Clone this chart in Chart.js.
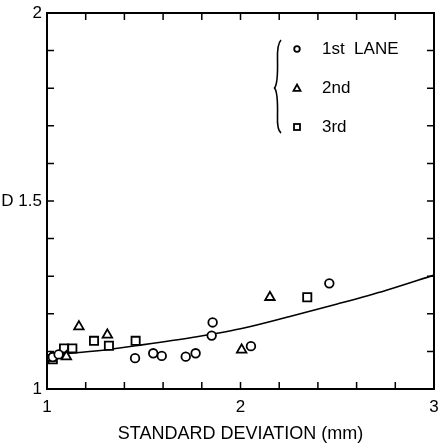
<!DOCTYPE html>
<html>
<head>
<meta charset="utf-8">
<script src="https://cdn.jsdelivr.net/npm/chart.js@4"></script>
<style>
  html, body { margin: 0; padding: 0; background: #fff; }
  #wrap { width: 438px; height: 445px; }
</style>
</head>
<body>
<div id="wrap"><canvas id="chart" width="438" height="445"></canvas></div>
<script>
// values
const circleX = [1.03, 1.06, 1.455, 1.549, 1.593, 1.717, 1.768, 1.856, 1.851, 2.054, 2.459];
const circleY = [1.085, 1.092, 1.082, 1.095, 1.088, 1.086, 1.095, 1.177, 1.142, 1.114, 1.281];

const triX = [1.02, 1.10, 1.165, 1.312, 2.006, 2.152];
const triY = [1.082, 1.086, 1.166, 1.144, 1.104, 1.244];

const sqX = [1.03, 1.088, 1.131, 1.243, 1.320, 1.458, 2.345];
const sqY = [1.079, 1.108, 1.108, 1.128, 1.115, 1.128, 1.244];

const curveX = [1.0, 1.25, 1.5, 1.75, 2.0, 2.25, 2.5, 2.75, 3.0];
const curveY = [1.090, 1.101, 1.118, 1.137, 1.160, 1.192, 1.226, 1.262, 1.303];

const xTickLabels = { '1': '1', '2': '2', '3': '3' };
const yTickLabels = { '1': '1', '1.5': 'D 1.5', '2': '2' };
const legendLabels = ['1st  LANE', '2nd', '3rd'];

const FONT = '"Liberation Sans", Arial, Helvetica, sans-serif';

function pts(xs, ys) {
  return xs.map((x, i) => ({ x, y: ys[i] }));
}

function nearLabel(v, table) {
  for (const k of Object.keys(table)) {
    if (Math.abs(v - parseFloat(k)) < 1e-6) return table[k];
  }
  return '';
}

// box with inward ticks on all four sides
const frame = {
  id: 'frame',
  afterDatasetsDraw(chart) {
    const { ctx, chartArea: a, scales } = chart;
    ctx.save();
    ctx.strokeStyle = '#000';
    ctx.lineWidth = 2;
    ctx.strokeRect(a.left, a.top, a.right - a.left, a.bottom - a.top);
    ctx.lineWidth = 1.5;
    ctx.beginPath();
    scales.x.ticks.forEach((t) => {
      const px = scales.x.getPixelForValue(t.value);
      ctx.moveTo(px, a.bottom);
      ctx.lineTo(px, a.bottom - 7);
      ctx.moveTo(px, a.top);
      ctx.lineTo(px, a.top + 7);
    });
    scales.y.ticks.forEach((t) => {
      const py = scales.y.getPixelForValue(t.value);
      ctx.moveTo(a.left, py);
      ctx.lineTo(a.left + 7, py);
      ctx.moveTo(a.right, py);
      ctx.lineTo(a.right - 7, py);
    });
    ctx.stroke();
    ctx.restore();
  }
};

// legend drawn inside the plot with a brace
const braceLegend = {
  id: 'braceLegend',
  afterDraw(chart) {
    const ctx = chart.ctx;
    ctx.save();
    ctx.strokeStyle = '#000';
    ctx.fillStyle = '#000';

    // brace
    ctx.lineWidth = 1.6;
    ctx.beginPath();
    ctx.moveTo(281, 40);
    ctx.quadraticCurveTo(277, 44, 277.5, 60);
    ctx.quadraticCurveTo(278, 84, 274.5, 88);
    ctx.quadraticCurveTo(278, 92, 277.5, 116);
    ctx.quadraticCurveTo(277, 130, 281, 133);
    ctx.stroke();

    const rows = [49, 88, 127];
    ctx.lineWidth = 1.8;
    // circle
    ctx.beginPath();
    ctx.arc(297, rows[0], 2.8, 0, Math.PI * 2);
    ctx.stroke();
    // triangle
    ctx.beginPath();
    ctx.moveTo(297, rows[1] - 3.5);
    ctx.lineTo(300.5, rows[1] + 2.8);
    ctx.lineTo(293.5, rows[1] + 2.8);
    ctx.closePath();
    ctx.stroke();
    // square
    ctx.strokeRect(294, rows[2] - 3, 6, 6);

    ctx.font = '17px ' + FONT;
    ctx.textBaseline = 'middle';
    ctx.textAlign = 'left';
    legendLabels.forEach((t, i) => ctx.fillText(t, 322, rows[i]));
    ctx.restore();
  }
};

const markerBase = {
  type: 'scatter',
  showLine: false,
  borderColor: '#000',
  backgroundColor: '#fff',
  pointBorderWidth: 1.8
};

new Chart(document.getElementById('chart'), {
  type: 'scatter',
  data: {
    datasets: [
      {
        ...markerBase,
        label: '1st LANE',
        data: pts(circleX, circleY),
        pointStyle: 'circle',
        pointRadius: 4.3
      },
      {
        ...markerBase,
        label: '2nd',
        data: pts(triX, triY),
        pointStyle: 'triangle',
        pointRadius: 5.5
      },
      {
        ...markerBase,
        label: '3rd',
        data: pts(sqX, sqY),
        pointStyle: 'rect',
        pointRadius: 5.8
      },
      {
        type: 'line',
        label: 'fit',
        data: pts(curveX, curveY),
        borderColor: '#000',
        borderWidth: 1.6,
        pointRadius: 0,
        fill: false,
        cubicInterpolationMode: 'monotone'
      }
    ]
  },
  options: {
    responsive: false,
    animation: false,
    layout: { autoPadding: false, padding: { top: 13, right: 4, left: 0, bottom: 0 } },
    plugins: {
      legend: { display: false },
      tooltip: { enabled: false }
    },
    scales: {
      x: {
        type: 'linear',
        min: 1,
        max: 3,
        grid: { display: false, drawTicks: false },
        border: { display: false },
        ticks: {
          stepSize: 0.2,
          autoSkip: false,
          maxRotation: 0,
          padding: 8,
          color: '#000',
          font: { family: FONT, size: 17 },
          callback: (v) => nearLabel(v, xTickLabels)
        },
        title: {
          display: true,
          text: 'STANDARD DEVIATION (mm)',
          color: '#000',
          font: { family: FONT, size: 18 },
          padding: { top: 10, bottom: 0 }
        },
        afterFit: (s) => {
          s.height = 56;
          s.paddingLeft = 0;
          s.paddingRight = 0;
        }
      },
      y: {
        type: 'linear',
        min: 1,
        max: 2,
        grid: { display: false, drawTicks: false },
        border: { display: false },
        ticks: {
          stepSize: 0.1,
          autoSkip: false,
          padding: 5,
          color: '#000',
          font: { family: FONT, size: 17 },
          callback: (v) => nearLabel(v, yTickLabels)
        },
        afterFit: (s) => {
          s.width = 47;
          s.paddingTop = 0;
          s.paddingBottom = 0;
        }
      }
    }
  },
  plugins: [frame, braceLegend]
});
</script>
</body>
</html>
